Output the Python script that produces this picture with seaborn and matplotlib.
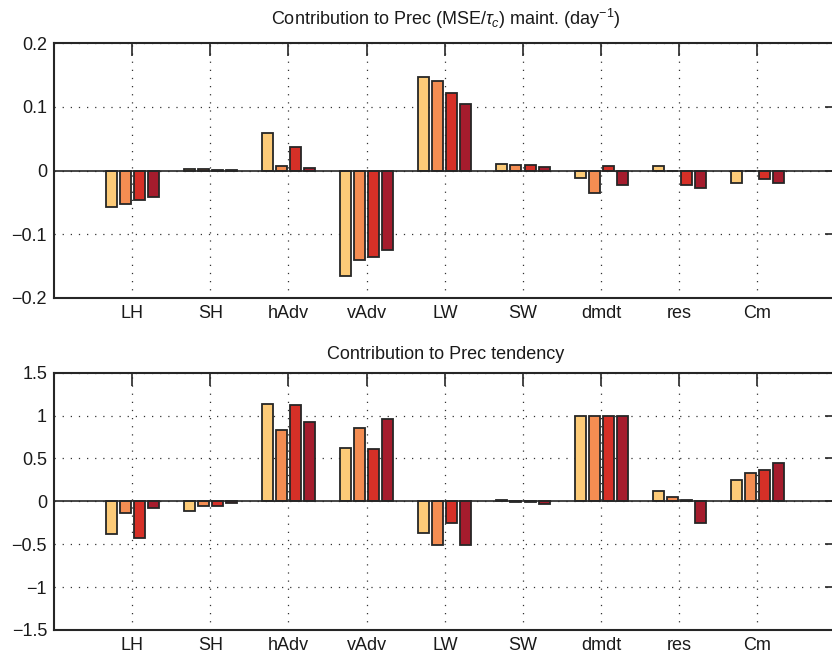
import numpy as np
import pandas as pd
import matplotlib
matplotlib.use("Agg")
import matplotlib.pyplot as plt
import seaborn as sns

terms = ["LH", "SH", "hAdv", "vAdv", "LW", "SW", "dmdt", "res", "Cm"]
cases = ["c1", "c2", "c3", "c4"]

# Top panel: Contribution to Prec (MSE/tau_c) maint.
maint_c1 = [-0.057, 0.003, 0.059, -0.166, 0.146, 0.010, -0.012, 0.007, -0.020]
maint_c2 = [-0.052, 0.002, 0.007, -0.140, 0.140, 0.008, -0.036, -0.0015, -0.001]
maint_c3 = [-0.047, 0.001, 0.037, -0.135, 0.122, 0.008, 0.007, -0.022, -0.013]
maint_c4 = [-0.041, 0.0008, 0.004, -0.125, 0.105, 0.006, -0.023, -0.027, -0.020]

# Bottom panel: Contribution to Prec tendency
tend_c1 = [-0.385, -0.109, 1.14, 0.626, -0.372, 0.010, 1.0, 0.117, 0.249]
tend_c2 = [-0.136, -0.050, 0.833, 0.852, -0.514, -0.010, 1.0, 0.047, 0.335]
tend_c3 = [-0.432, -0.050, 1.128, 0.611, -0.253, -0.005, 1.0, 0.015, 0.362]
tend_c4 = [-0.074, -0.023, 0.930, 0.965, -0.514, -0.030, 1.0, -0.249, 0.451]

top_yticks = [-0.2, -0.1, 0, 0.1, 0.2]
top_yticklabels = ["\u22120.2", "\u22120.1", "0", "0.1", "0.2"]
bot_yticks = [-1.5, -1, -0.5, 0, 0.5, 1, 1.5]
bot_yticklabels = ["\u22121.5", "\u22121", "\u22120.5", "0", "0.5", "1", "1.5"]

colors = ["#FDCB78", "#F48D52", "#D63027", "#A51C2D"]

title_top = r"Contribution to Prec (MSE/$\tau_c$) maint. (day$^{-1}$)"
title_bot = "Contribution to Prec tendency"


def long_df(series):
    rows = []
    for c, vals in zip(cases, series):
        for t, v in zip(terms, vals):
            rows.append({"term": t, "case": c, "value": v})
    return pd.DataFrame(rows)


df_top = long_df([maint_c1, maint_c2, maint_c3, maint_c4])
df_bot = long_df([tend_c1, tend_c2, tend_c3, tend_c4])

sns.set_theme(style="white")
plt.rcParams["font.family"] = ["Liberation Sans", "DejaVu Sans"]
plt.rcParams["mathtext.fontset"] = "custom"
plt.rcParams["mathtext.rm"] = "Liberation Sans"
plt.rcParams["mathtext.it"] = "Liberation Sans:italic"

FS = 13
fig = plt.figure(figsize=(8.32, 6.55), dpi=100)
# axes extend slightly past the right edge of the figure, as in the reference
ax_w = (838 - 54) / 832
ax1 = fig.add_axes([54 / 832, 1 - 298 / 655, ax_w, 255 / 655])
ax2 = fig.add_axes([54 / 832, 1 - 630 / 655, ax_w, 257.3 / 655])


def draw(ax, df, yticks, yticklabels, title, title_pad):
    sns.barplot(data=df, x="term", y="value", hue="case", palette=colors,
                saturation=1, width=0.72, gap=0.22, edgecolor="#262626",
                linewidth=1.3, legend=False, ax=ax, order=terms,
                hue_order=cases, zorder=3)
    ax.set_xlim(-1, 9.03)
    ax.set_ylim(yticks[0], yticks[-1])
    ax.set_yticks(yticks)
    ax.set_yticklabels(yticklabels)
    ax.set_xticks(range(len(terms)))
    ax.set_xticklabels(terms)
    ax.set_xlabel("")
    ax.set_ylabel("")
    ax.axhline(0, color="#262626", lw=1.2, zorder=4)
    ax.grid(True, linestyle=(0, (1, 5.5)), color="#333333", lw=0.9, zorder=0)
    ax.set_axisbelow(True)
    for s in ax.spines.values():
        s.set_color("#262626")
        s.set_linewidth(1.5)
        s.set_visible(True)
    ax.tick_params(direction="in", length=9.5, width=1.2, color="#262626",
                   top=True, right=True, labelsize=FS, pad=5,
                   labelcolor="#1a1a1a")
    ax.set_title(title, fontsize=FS, pad=title_pad, color="#1a1a1a")


draw(ax1, df_top, top_yticks, top_yticklabels, title_top, 13)
draw(ax2, df_bot, bot_yticks, bot_yticklabels, title_bot, 10)

fig.savefig("out.png", dpi=100)
